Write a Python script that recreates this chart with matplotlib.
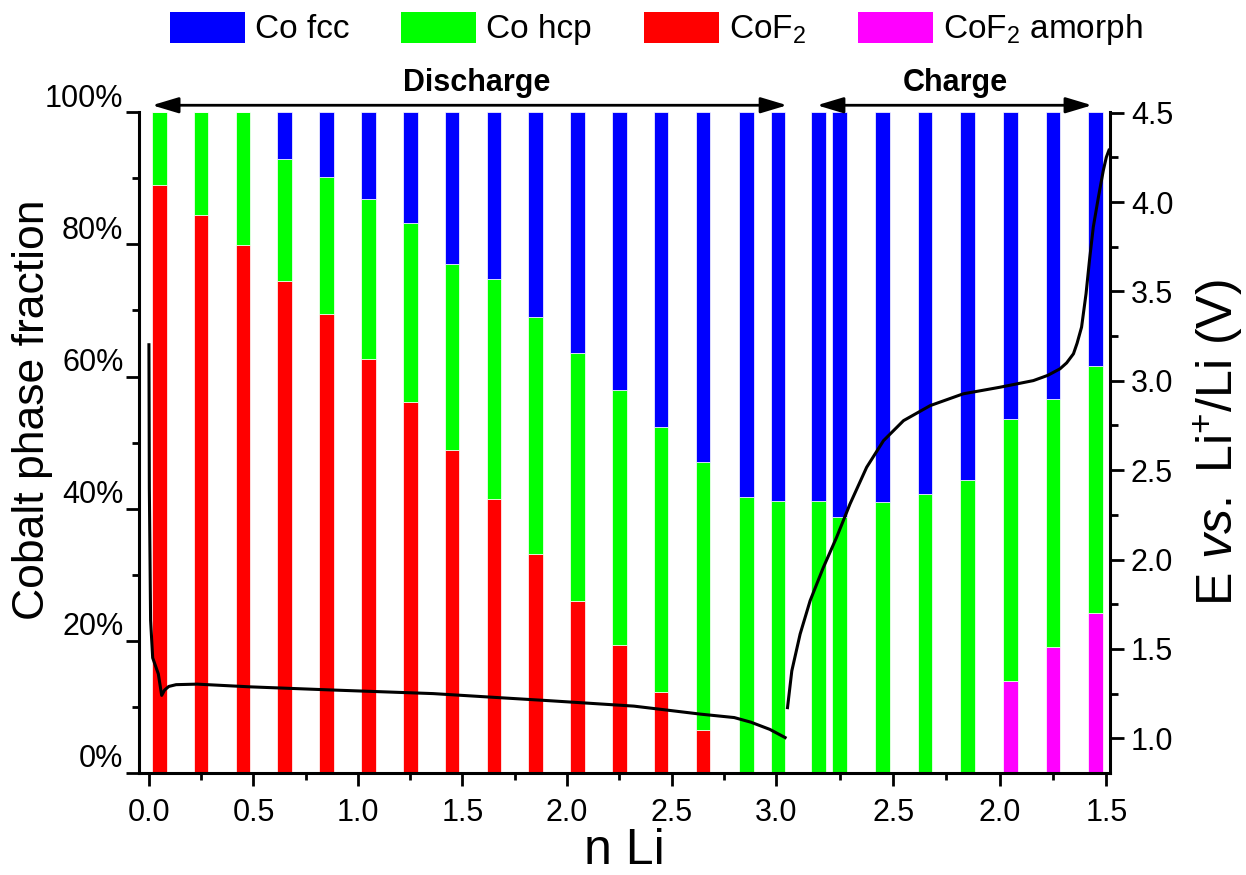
import matplotlib
matplotlib.use('Agg')
import numpy as np
import matplotlib.pyplot as plt
from matplotlib.patches import Patch
from matplotlib.ticker import FixedLocator, FixedFormatter, FuncFormatter, MultipleLocator
import matplotlib.transforms as mtransforms

plt.rcParams['font.family'] = ['Liberation Sans', 'DejaVu Sans']
plt.rcParams['mathtext.fontset'] = 'custom'
plt.rcParams['mathtext.rm'] = 'Liberation Sans'
plt.rcParams['mathtext.it'] = 'Liberation Sans:italic'
plt.rcParams['mathtext.bf'] = 'Liberation Sans:bold'

# ---------------- data ----------------
phase_labels = ['Co fcc', 'Co hcp', 'CoF$_2$', 'CoF$_2$ amorph']
phase_colors = ['#0000FF', '#00FF00', '#FF0000', '#FF00FF']

# discharge scans (n Li increasing)
dis_n = [0.05, 0.25, 0.45, 0.65, 0.85, 1.05, 1.25, 1.45, 1.65, 1.85,
         2.05, 2.25, 2.45, 2.65, 2.86, 3.01]
dis_cof2 = [89.0, 84.5, 79.9, 74.5, 69.5, 62.7, 56.2, 48.9, 41.4, 33.2,
            26.0, 19.3, 12.2, 6.5, 0.0, 0.0]
dis_hcp = [11.0, 15.5, 20.1, 18.4, 20.7, 24.2, 27.1, 28.2, 33.3, 35.8,
           37.5, 38.7, 40.1, 40.6, 41.7, 41.2]
dis_fcc = [0.0, 0.0, 0.0, 7.1, 9.8, 13.1, 16.7, 22.9, 25.3, 31.0,
           36.5, 42.0, 47.7, 52.9, 58.3, 58.8]

# charge scans (n Li decreasing)
ch_n = [2.85, 2.75, 2.55, 2.35, 2.15, 1.95, 1.75, 1.55]
ch_amorph = [0.0, 0.0, 0.0, 0.0, 0.0, 13.9, 19.0, 24.2]
ch_hcp = [41.1, 38.8, 41.0, 42.2, 44.3, 39.6, 37.6, 37.4]
ch_fcc = [58.9, 61.2, 59.0, 57.8, 55.7, 46.5, 43.4, 38.4]

# voltage profiles
dis_curve_n = [0.0, 0.002, 0.008, 0.018, 0.045, 0.061, 0.075, 0.095, 0.13, 0.23,
               0.48, 0.88, 1.36, 1.68, 1.92, 2.32, 2.64, 2.80, 2.88, 2.97, 3.05]
dis_curve_v = [3.21, 2.40, 1.66, 1.45, 1.36, 1.24, 1.27, 1.29, 1.30, 1.303,
               1.288, 1.27, 1.25, 1.227, 1.21, 1.18, 1.135, 1.116, 1.09, 1.05, 1.00]
ch_curve_n = [2.996, 2.975, 2.936, 2.889, 2.827, 2.765, 2.702, 2.624, 2.545,
              2.451, 2.326, 2.171, 1.998, 1.842, 1.775, 1.717, 1.686, 1.654,
              1.637, 1.616, 1.595, 1.579, 1.561, 1.537, 1.514, 1.500, 1.485]
ch_curve_v = [1.163, 1.377, 1.583, 1.77, 1.956, 2.124, 2.311, 2.516, 2.665,
              2.777, 2.861, 2.927, 2.964, 3.001, 3.03, 3.067, 3.10, 3.151,
              3.21, 3.30, 3.487, 3.673, 3.86, 4.027, 4.177, 4.25, 4.298]

dis_major = [0.0, 0.5, 1.0, 1.5, 2.0, 2.5, 3.0]
dis_minor = [0.25, 0.75, 1.25, 1.75, 2.25, 2.75]
ch_major = [2.5, 2.0, 1.5]
ch_minor = [2.75, 2.25, 1.75]


def ch_pos(n):
    # charge branch of the folded n Li axis
    return 3.05 + (3.0 - np.asarray(n, dtype=float)) * 1.02


# ---------------- figure ----------------
fig = plt.figure(figsize=(12.46, 8.75), dpi=100)
ax = fig.add_axes([0.1113, 0.1166, 0.8909 - 0.1113, 0.8717 - 0.1166])
ax2 = ax.twinx()

bw = 0.07
ekw = dict(edgecolor='white', linewidth=0.5)
xd = np.array(dis_n)
r = np.array(dis_cof2)
g = np.array(dis_hcp)
b = np.array(dis_fcc)
ax.bar(xd, r, bw, color=phase_colors[2], **ekw)
ax.bar(xd, g, bw, bottom=r, color=phase_colors[1], **ekw)
ax.bar(xd, b, bw, bottom=r + g, color=phase_colors[0], **ekw)

xc = ch_pos(ch_n)
m = np.array(ch_amorph)
g2 = np.array(ch_hcp)
b2 = np.array(ch_fcc)
ax.bar(xc, m, bw, color=phase_colors[3], **ekw)
ax.bar(xc, g2, bw, bottom=m, color=phase_colors[1], **ekw)
ax.bar(xc, b2, bw, bottom=m + g2, color=phase_colors[0], **ekw)

ax2.plot(dis_curve_n, dis_curve_v, color='black', lw=2.2, solid_capstyle='butt',
         solid_joinstyle='round')
ax2.plot(ch_pos(ch_curve_n), ch_curve_v, color='black', lw=2.2, solid_capstyle='butt',
         solid_joinstyle='round')

ax.set_xlim(-0.049, 4.598)
ax.set_ylim(0, 100)
ax2.set_ylim(0.806, 4.502)

# x ticks
major_pos = list(dis_major) + list(ch_pos(ch_major))
major_lab = ['%.1f' % v for v in dis_major] + ['%.1f' % v for v in ch_major]
minor_pos = list(dis_minor) + list(ch_pos(ch_minor))
ax.xaxis.set_major_locator(FixedLocator(major_pos))
ax.xaxis.set_major_formatter(FixedFormatter(major_lab))
ax.xaxis.set_minor_locator(FixedLocator(minor_pos))

# left y ticks
ax.yaxis.set_major_locator(MultipleLocator(20))
ax.yaxis.set_minor_locator(MultipleLocator(10))
ax.yaxis.set_major_formatter(FuncFormatter(lambda v, p: '%d%%' % round(v)))

# right y ticks
ax2.yaxis.set_major_locator(MultipleLocator(0.5))
ax2.yaxis.set_minor_locator(MultipleLocator(0.25))
ax2.yaxis.set_major_formatter(FuncFormatter(lambda v, p: '%.1f' % v))

lw_sp = 2.2
for a in (ax, ax2):
    for s in a.spines.values():
        s.set_linewidth(lw_sp)
    a.spines['top'].set_visible(False)
ax.spines['right'].set_visible(False)
ax2.spines['left'].set_visible(False)
ax2.spines['bottom'].set_visible(False)

ax.tick_params(axis='x', which='major', direction='out', length=9, width=2, labelsize=22, pad=9)
ax.tick_params(axis='x', which='minor', direction='out', length=5, width=2)
ax.tick_params(axis='y', which='major', direction='out', length=9.5, width=2, labelsize=22, pad=1.5)
ax.tick_params(axis='y', which='minor', direction='out', length=5, width=2)
ax2.tick_params(axis='y', which='major', direction='out', length=10, width=2, labelsize=22, pad=5)
ax2.tick_params(axis='y', which='minor', direction='out', length=5.5, width=2)

# left tick labels sit slightly above their ticks
off = mtransforms.ScaledTranslation(0, 17 / 100, fig.dpi_scale_trans)
for lab in ax.get_yticklabels():
    lab.set_transform(lab.get_transform() + off)

ax.set_xlabel('n Li', fontsize=36)
ax.xaxis.set_label_coords(0.5, -0.083)
ax.set_ylabel('Cobalt phase fraction', fontsize=32)
ax.yaxis.set_label_coords(-0.0886, 0.55)
ax2.set_ylabel('E $\\mathit{vs.}$ Li$^{+}$/Li (V)', fontsize=36)
ax2.yaxis.set_label_coords(1.0845, 0.5)

# discharge / charge arrows
trans = mtransforms.blended_transform_factory(ax.transData, ax.transAxes)
y_arr = 1.0106
ap = dict(arrowstyle='<|-|>,head_length=1.0,head_width=0.3', mutation_scale=16,
          lw=2, color='black', shrinkA=0, shrinkB=0)
ax.annotate('', xy=(0.015, y_arr), xytext=(3.053, y_arr), xycoords=trans,
            textcoords=trans, arrowprops=ap, annotation_clip=False)
ax.annotate('', xy=(float(ch_pos(2.857)), y_arr), xytext=(float(ch_pos(1.567)), y_arr),
            xycoords=trans, textcoords=trans, arrowprops=ap, annotation_clip=False)
ax.text(1.57, 1.044, 'Discharge', transform=trans, ha='center', va='center',
        fontsize=22, fontweight='bold', clip_on=False)
ax.text(float(ch_pos(2.206)), 1.044, 'Charge', transform=trans, ha='center', va='center',
        fontsize=22, fontweight='bold', clip_on=False)

handles = [Patch(facecolor=c, edgecolor='none', label=l) for c, l in zip(phase_colors, phase_labels)]
fig.legend(handles=handles, loc='center', bbox_to_anchor=(0.5265, 1 - 29.5 / 875), ncol=4,
           frameon=False, fontsize=24, handlelength=2.25, handleheight=1.05,
           handletextpad=0.3, columnspacing=1.56, borderaxespad=0, borderpad=0)

fig.savefig('out.png', dpi=100)
